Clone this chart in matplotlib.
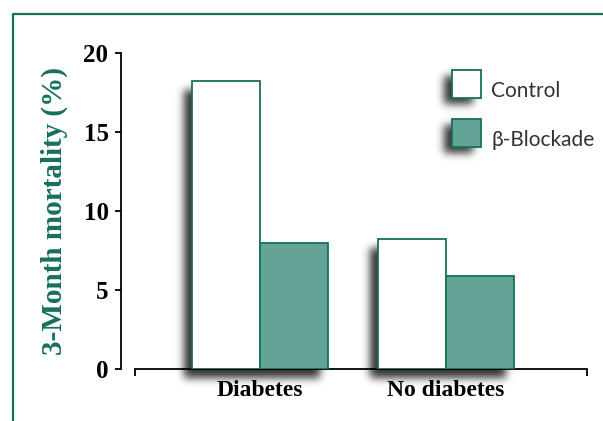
import matplotlib.pyplot as plt
from matplotlib.patches import Rectangle
from matplotlib.lines import Line2D
import numpy as np

groups = ['Diabetes', 'No diabetes']
series = ['Control', 'β-Blockade']
control = [18.2, 8.2]
blockade = [8.0, 5.9]
yticks = [0, 5, 10, 15, 20]

green = '#17705c'
teal = '#63a496'

W, H = 603, 421
fig = plt.figure(figsize=(W / 100, H / 100), dpi=100)
ax = fig.add_axes([121 / W, 1 - 369 / H, 466 / W, 316 / H])
ax.patch.set_visible(False)

x = np.arange(len(groups))
w = 0.366

ax.bar(x - w / 2, control, w, color='white', edgecolor=green, linewidth=1.3, zorder=3)
ax.bar(x + w / 2, blockade, w, color=teal, edgecolor=green, linewidth=1.3, zorder=3)

ax.set_xlim(-0.747, 1.758)
ax.set_ylim(0, 20)

for s in ['top', 'right']:
    ax.spines[s].set_visible(False)
ax.spines['left'].set_linewidth(1.3)
ax.spines['bottom'].set_linewidth(1.3)
ax.spines['bottom'].set_bounds(-0.672, 1.758)

ax.set_yticks(yticks)
ax.set_yticklabels([str(v) for v in yticks], fontfamily='Liberation Serif',
                   fontweight='bold', fontsize=18)
ax.tick_params(axis='y', length=4, width=1.3, pad=5)

ax.set_xticks(x)
ax.set_xticklabels(groups, fontfamily='Liberation Serif', fontweight='bold', fontsize=17)
ax.set_xticks([-0.672, 1.758], minor=True)
ax.tick_params(axis='x', which='major', length=0, pad=8)
ax.tick_params(axis='x', which='minor', length=5, width=1.3)

ax.set_ylabel('3-Month mortality (%)', fontfamily='Liberation Serif', fontweight='bold',
              fontsize=21, color=green, labelpad=11)

# legend boxes
boxes = [(0.710, 0.858), (0.710, 0.703)]
bw, bh = 0.063, 0.088
fills = ['white', teal]
for (bx, by), fc, name in zip(boxes, fills, series):
    ax.add_patch(Rectangle((bx, by), bw, bh, facecolor=fc, edgecolor=green, linewidth=1.3,
                           transform=ax.transAxes, clip_on=False, zorder=3))
    ax.text(bx + bw + 0.021, by + bh / 2 - 0.022, name, transform=ax.transAxes,
            fontfamily=['Lato', 'DejaVu Sans'], fontsize=15, color='#333333',
            va='center', ha='left')

# soft drop shadow behind bars and legend boxes, blurred in pixel space
mask = np.zeros((H, W))


def stamp(x0, y0, x1, y1, dx=-8, dy=-9):
    c0, c1 = int(round(min(x0, x1) + dx)), int(round(max(x0, x1) + dx))
    r0, r1 = int(round(min(y0, y1) + dy)), int(round(max(y0, y1) + dy))
    mask[max(r0, 0):max(r1, 0), max(c0, 0):max(c1, 0)] = 1.0


for xi, hi in zip(list(x - w) + list(x.astype(float)), control + blockade):
    (px0, py0), (px1, py1) = ax.transData.transform([(xi, 0), (xi + w, hi)])
    stamp(px0, py0, px1, py1)
for bx, by in boxes:
    (px0, py0), (px1, py1) = ax.transAxes.transform([(bx, by), (bx + bw, by + bh)])
    stamp(px0, py0, px1, py1, dx=-8, dy=-6)

sigma = 4.2
k = np.arange(-14, 15)
kern = np.exp(-k ** 2 / (2 * sigma ** 2))
kern /= kern.sum()
blur = np.apply_along_axis(lambda r: np.convolve(r, kern, mode='same'), 1, mask)
blur = np.apply_along_axis(lambda c: np.convolve(c, kern, mode='same'), 0, blur)

shadow = np.zeros((H, W, 4))
shadow[..., 3] = np.clip(blur * 0.8, 0, 1)
fig.figimage(shadow, xo=0, yo=0, origin='lower', zorder=-1)

# green frame along the top and left edge
fig.add_artist(Line2D([13 / W, 13 / W, 1], [0, 1 - 14 / H, 1 - 14 / H],
                      transform=fig.transFigure, color=green, linewidth=1.6))

fig.savefig('out.png', dpi=100)
